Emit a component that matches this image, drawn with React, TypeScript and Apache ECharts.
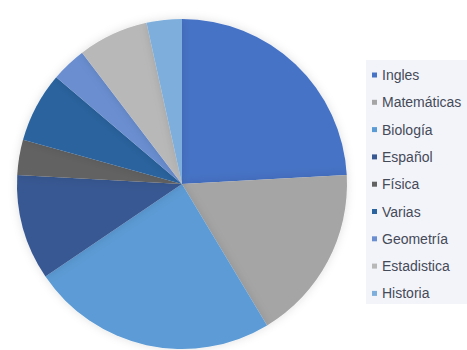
import React, { useEffect, useRef } from "react";
import * as echarts from "echarts";

const categories = ["Ingles", "Matemáticas", "Biología", "Español", "Física", "Varias", "Geometría", "Estadistica", "Historia"];
const values = [7, 5, 7, 3, 1, 2, 1, 2, 1];
const colors = ["#4673C6", "#A5A5A5", "#5B9BD5", "#385893", "#626262", "#2A639E", "#6A8ED0", "#B8B8B8", "#7DAEDC"];

export default function App() {
  const ref = useRef<HTMLDivElement>(null);
  useEffect(() => {
    document.body.style.margin = "0";
    const chart = echarts.init(ref.current!, undefined, { renderer: "svg" });
    chart.setOption({
      animation: false,
      backgroundColor: "#ffffff",
      color: colors,
      graphic: [
        {
          type: "rect",
          z: -1,
          shape: { x: 366, y: 60, width: 101, height: 244 },
          style: { fill: "#f3f4fa" },
        },
      ],
      legend: {
        orient: "vertical",
        left: 367,
        top: 63,
        itemWidth: 5,
        itemHeight: 5,
        itemGap: 13.3,
        icon: "rect",
        textStyle: {
          fontFamily: "Liberation Sans",
          fontSize: 14,
          color: "#454a58",
          lineHeight: 14,
        },
        data: categories,
      },
      series: [
        {
          type: "pie",
          center: [182, 184],
          radius: 165,
          startAngle: 90,
          clockwise: true,
          label: { show: false },
          labelLine: { show: false },
          itemStyle: {
            shadowBlur: 10,
            shadowColor: "rgba(0,0,0,0.12)",
          },
          emphasis: { disabled: true },
          data: categories.map((c, i) => ({ name: c, value: values[i] })),
        },
      ],
    });
    return () => chart.dispose();
  }, []);
  return <div ref={ref} style={{ position: "absolute", left: 0, top: 0, width: 467, height: 350 }} />;
}
